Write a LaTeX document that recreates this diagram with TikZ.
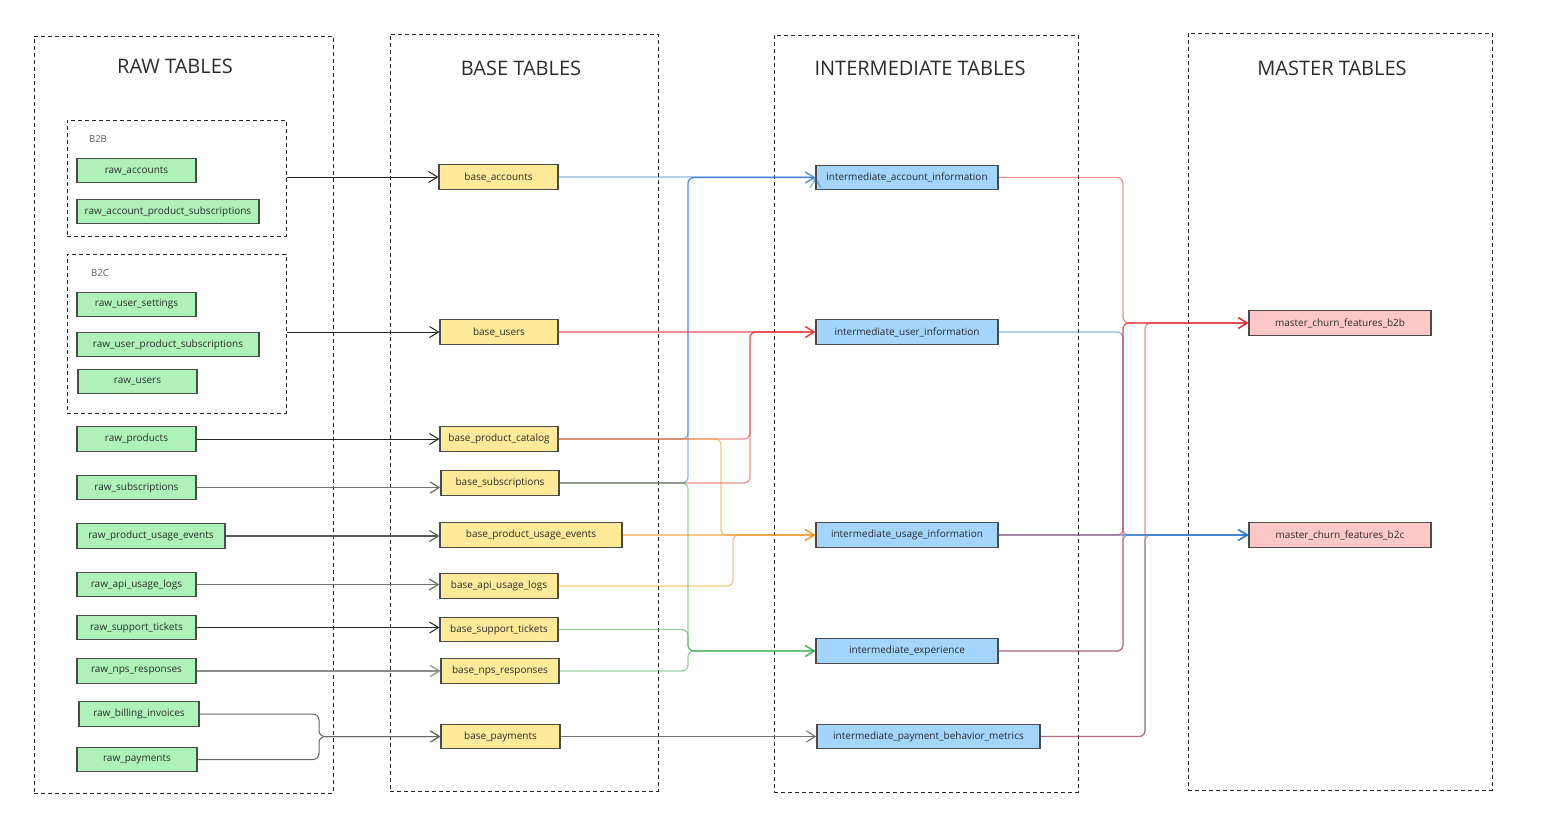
\documentclass[tikz,border=0pt]{standalone}
\usepackage{fontspec}
\setmainfont{Open Sans}
\usetikzlibrary{arrows.meta}
\definecolor{txt}{HTML}{2B2B2B}
\definecolor{bord}{HTML}{4A4A4A}
\definecolor{rawfill}{HTML}{AEF2BA}
\definecolor{basefill}{HTML}{FFEA99}
\definecolor{intfill}{HTML}{A3D5FF}
\definecolor{masfill}{HTML}{FFC8C8}
\definecolor{eblue}{HTML}{1F6FD0}
\definecolor{ered}{HTML}{E02424}
\definecolor{eorange}{HTML}{F28C0A}
\definecolor{egreen}{HTML}{2BA84A}
\begin{document}
\begin{tikzpicture}[x=1pt,y=-1pt,
  container/.style={draw=black!85, line width=1pt, dash pattern=on 4pt off 3pt, inner sep=0pt},
  grp/.style={draw=black!85, line width=1pt, dash pattern=on 4pt off 3pt, inner sep=0pt},
  title/.style={text=txt, font=\fontsize{20}{22}\selectfont},
  grplabel/.style={text=black!65, font=\fontsize{9.5}{11}\selectfont},
  tbl/.style={draw=bord, line width=1.1pt, minimum height=24.5pt, inner sep=0pt, text=txt, font=\fontsize{10}{12}\selectfont},
  rawt/.style={tbl, fill=rawfill},
  baset/.style={tbl, fill=basefill},
  intt/.style={tbl, fill=intfill},
  mast/.style={tbl, fill=masfill},
  tip/.style={-{Straight Barb[length=9pt,width=11pt]}},
  rawarr/.style={tip, line width=1pt, draw=#1},
  col/.style={tip, line width=1.3pt, draw=#1, draw opacity=0.5, rounded corners=6pt},
]
\useasboundingbox (0,0) rectangle (1548,831);

% containers
\node[container, minimum width=299pt, minimum height=757pt] (rawc) at (183.5,414.5) {};
\node[container, minimum width=268pt, minimum height=757pt] (basec) at (524,412.5) {};
\node[container, minimum width=304pt, minimum height=757pt] (intc) at (926,413.5) {};
\node[container, minimum width=304pt, minimum height=757pt] (masc) at (1340,411.5) {};
\node[title] (rawtitle) at (175,66) {RAW TABLES};
\node[title] (basetitle) at (521,68) {BASE TABLES};
\node[title] (inttitle) at (920,68) {INTERMEDIATE TABLES};
\node[title] (mastitle) at (1332,68) {MASTER TABLES};

% groups
\node[grp, minimum width=219pt, minimum height=116pt] (b2b) at (176.5,178) {};
\node[grp, minimum width=219pt, minimum height=159pt] (b2c) at (176.5,333.5) {};
\node[grplabel] (b2blab) at (98,139) {B2B};
\node[grplabel] (b2clab) at (100,273) {B2C};

% raw tables
\node[rawt, minimum width=119pt] (rawacc) at (136.5,170.5) {raw\_accounts};
\node[rawt, minimum width=182pt] (rawaps) at (168,211.5) {raw\_account\_product\_subscriptions};
\node[rawt, minimum width=119pt] (rawus) at (136.5,304.5) {raw\_user\_settings};
\node[rawt, minimum width=182pt] (rawups) at (168,344.5) {raw\_user\_product\_subscriptions};
\node[rawt, minimum width=119pt] (rawusers) at (137.5,381.5) {raw\_users};
\node[rawt, minimum width=119pt] (rawprod) at (136.5,439) {raw\_products};
\node[rawt, minimum width=119pt] (rawsub) at (136.5,487.5) {raw\_subscriptions};
\node[rawt, minimum width=148pt] (rawpue) at (151,536) {raw\_product\_usage\_events};
\node[rawt, minimum width=119pt] (rawapi) at (136.5,584.5) {raw\_api\_usage\_logs};
\node[rawt, minimum width=119pt] (rawsup) at (136.5,627.5) {raw\_support\_tickets};
\node[rawt, minimum width=119pt] (rawnps) at (136.5,671) {raw\_nps\_responses};
\node[rawt, minimum width=120pt] (rawbill) at (139,714) {raw\_billing\_invoices};
\node[rawt, minimum width=120pt] (rawpay) at (137,759.5) {raw\_payments};

% base tables
\node[baset, minimum width=119pt] (bacc) at (498.5,177) {base\_accounts};
\node[baset, minimum width=118pt] (busers) at (499,332) {base\_users};
\node[baset, minimum width=118pt] (bcat) at (499,439) {base\_product\_catalog};
\node[baset, minimum width=118pt] (bsub) at (500,483) {base\_subscriptions};
\node[baset, minimum width=182pt] (bpue) at (531,535) {base\_product\_usage\_events};
\node[baset, minimum width=118pt] (bapi) at (499,586) {base\_api\_usage\_logs};
\node[baset, minimum width=118pt] (bsup) at (499,629.5) {base\_support\_tickets};
\node[baset, minimum width=118pt] (bnps) at (500,671) {base\_nps\_responses};
\node[baset, minimum width=119pt] (bpay) at (500.5,736.5) {base\_payments};

% intermediate tables
\node[intt, minimum width=182pt] (iacc) at (907,177.5) {intermediate\_account\_information};
\node[intt, minimum width=182pt] (iuser) at (907,332) {intermediate\_user\_information};
\node[intt, minimum width=182pt] (iusage) at (907,535) {intermediate\_usage\_information};
\node[intt, minimum width=182pt] (iexp) at (907,651) {intermediate\_experience};
\node[intt, minimum width=223pt] (ipay) at (928.5,736.5) {intermediate\_payment\_behavior\_metrics};

% master tables
\node[mast, minimum width=182pt] (mb2b) at (1340,323) {master\_churn\_features\_b2b};
\node[mast, minimum width=182pt] (mb2c) at (1340,535) {master\_churn\_features\_b2c};

% trunk coordinates
\coordinate (tblue) at (688,0);
\coordinate (tred) at (750,0);
\coordinate (tor1) at (721,0);
\coordinate (tor2) at (733,0);
\coordinate (tm1) at (1123,0);
\coordinate (tm2) at (1145,0);
\coordinate (jp) at (319,736.5);

% raw -> base
\draw[rawarr=black!85] (b2b.east |- bacc) -- (bacc.west);
\draw[rawarr=black!85] (b2c.east |- busers) -- (busers.west);
\draw[rawarr=black!85] (rawprod.east) -- (rawprod.east -| bcat.west);
\draw[rawarr=black!55, line width=1.3pt] (rawsub.east) -- (rawsub.east -| bsub.west);
\draw[rawarr=black!65, line width=1.1pt] (rawpue.east) -- (rawpue.east -| bpue.west);
\draw[rawarr=black!55, line width=1.3pt] (rawapi.east) -- (rawapi.east -| bapi.west);
\draw[rawarr=black!85] (rawsup.east) -- (rawsup.east -| bsup.west);
\draw[rawarr=black!45, line width=1.2pt] (rawnps.east) -- (rawnps.east -| bnps.west);
\draw[rawarr=black!60, rounded corners=6pt] (rawbill.east) -- (rawbill.east -| jp) -- (jp) -- (jp -| bpay.west);
\draw[rawarr=black!60, rounded corners=6pt] (rawpay.east) -- (rawpay.east -| jp) -- (jp) -- (jp -| bpay.west);

% base -> intermediate
\draw[col=eblue] (bacc.east) -- (iacc.west |- bacc.east) -- (iacc.west);
\draw[col=eblue] (bcat.east) -| (tblue |- iacc) -- (iacc.west);
\draw[col=eblue] (bsub.east) -| (tblue |- iacc) -- (iacc.west);
\draw[col=ered] (busers.east) -- (iuser.west);
\draw[col=ered] (bcat.east) -| (tred |- iuser) -- (iuser.west);
\draw[col=ered] (bsub.east) -| (tred |- iuser) -- (iuser.west);
\draw[col=eorange] (bcat.east) -| (tor1 |- iusage) -- (iusage.west);
\draw[col=eorange] (bpue.east) -- (iusage.west);
\draw[col=eorange] (bapi.east) -| (tor2 |- iusage) -- (iusage.west);
\draw[col=egreen] (bsub.east) -| (tblue |- iexp) -- (iexp.west);
\draw[col=egreen] (bsup.east) -| (tblue |- iexp) -- (iexp.west);
\draw[col=egreen] (bnps.east) -| (tblue |- iexp) -- (iexp.west);
\draw[rawarr=black!55, line width=1.1pt] (bpay.east) -- (ipay.west);

% intermediate -> master (blue first, red on top)
\draw[col=eblue] (iuser.east) -| (tm1 |- mb2c) -- (mb2c.west);
\draw[col=eblue] (iusage.east) -- (mb2c.west);
\draw[col=eblue] (iexp.east) -| (tm1 |- mb2c) -- (mb2c.west);
\draw[col=eblue] (ipay.east) -| (tm2 |- mb2c) -- (mb2c.west);
\draw[col=ered] (iacc.east) -| (tm1 |- mb2b) -- (mb2b.west);
\draw[col=ered] (iusage.east) -| (tm1 |- mb2b) -- (mb2b.west);
\draw[col=ered] (iexp.east) -| (tm1 |- mb2b) -- (mb2b.west);
\draw[col=ered] (ipay.east) -| (tm2 |- mb2b) -- (mb2b.west);
\end{tikzpicture}
\end{document}
